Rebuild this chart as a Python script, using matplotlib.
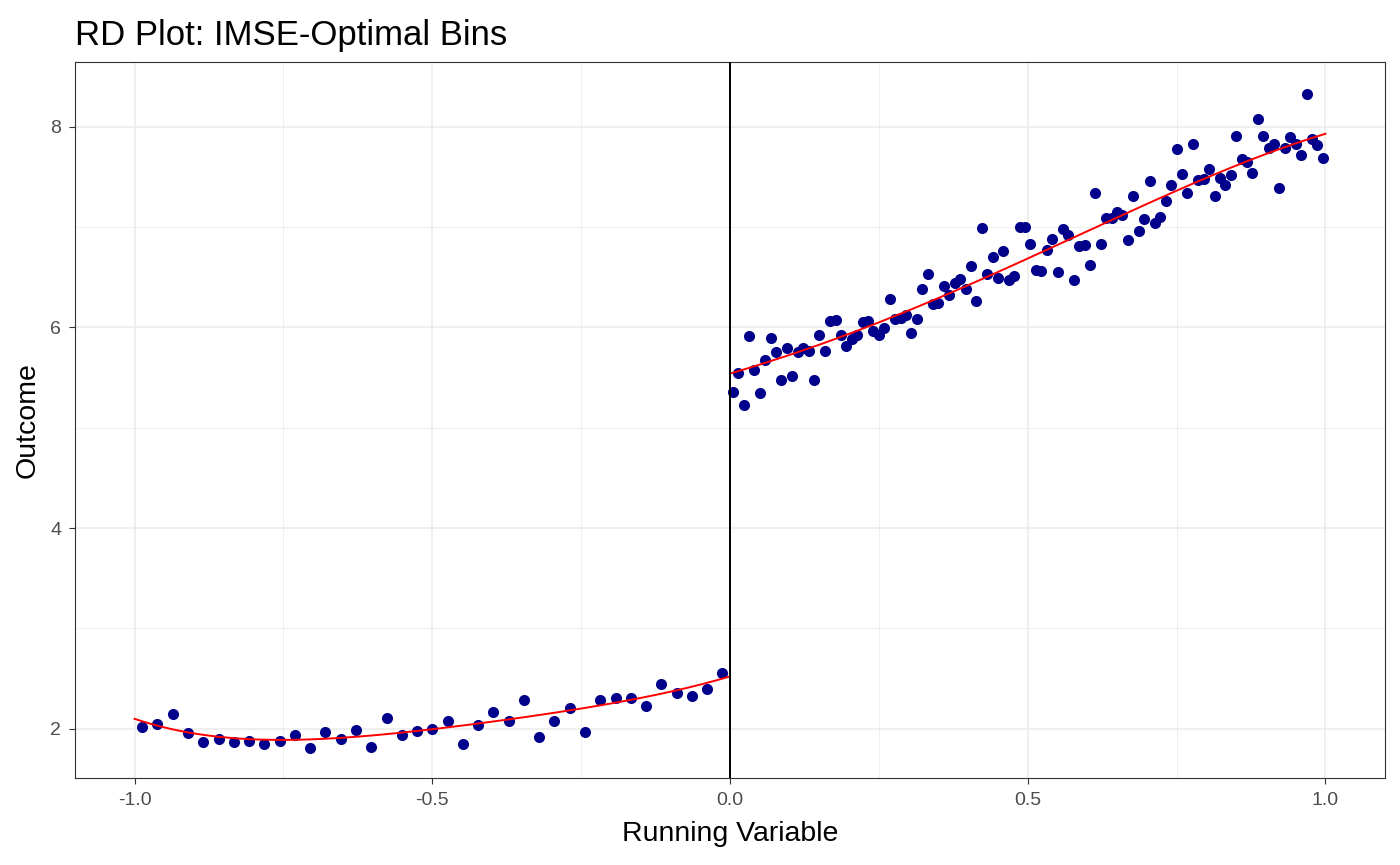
import numpy as np
import matplotlib.pyplot as plt

plt.rcParams['font.family'] = ['Liberation Sans', 'DejaVu Sans']

# bin means (39 bins left of the cutoff, 110 bins right)
left_y = [2.02, 2.05, 2.15, 1.96, 1.87, 1.90, 1.87, 1.88, 1.85, 1.88,
          1.94, 1.81, 1.97, 1.90, 1.99, 1.82, 2.11, 1.94, 1.98, 2.00,
          2.08, 1.85, 2.04, 2.17, 2.08, 2.29, 1.92, 2.08, 2.21, 1.97,
          2.29, 2.31, 2.31, 2.23, 2.45, 2.36, 2.33, 2.40, 2.56]

right_y = [5.36, 5.55, 5.23, 5.91, 5.58, 5.35, 5.68, 5.89, 5.76, 5.48,
           5.80, 5.52, 5.76, 5.80, 5.77, 5.48, 5.92, 5.77, 6.06, 6.07,
           5.92, 5.81, 5.88, 5.92, 6.05, 6.06, 5.96, 5.92, 5.99, 6.28,
           6.08, 6.09, 6.12, 5.94, 6.08, 6.38, 6.53, 6.23, 6.24, 6.41,
           6.32, 6.44, 6.48, 6.38, 6.61, 6.26, 6.99, 6.53, 6.70, 6.49,
           6.76, 6.47, 6.51, 7.00, 7.00, 6.83, 6.57, 6.56, 6.77, 6.88,
           6.55, 6.98, 6.92, 6.47, 6.81, 6.82, 6.62, 7.34, 6.83, 7.09,
           7.09, 7.15, 7.12, 6.87, 7.31, 6.96, 7.08, 7.46, 7.04, 7.10,
           7.26, 7.42, 7.78, 7.53, 7.34, 7.83, 7.47, 7.48, 7.58, 7.31,
           7.49, 7.42, 7.52, 7.91, 7.68, 7.65, 7.54, 8.08, 7.91, 7.79,
           7.83, 7.39, 7.79, 7.90, 7.83, 7.72, 8.33, 7.88, 7.82, 7.69]

# polynomial fit curve
curve_lx = [-1.0, -0.785, -0.515, -0.253, -0.13, 0.0]
curve_ly = [2.10, 1.89, 1.99, 2.19, 2.34, 2.52]
curve_rx = [0.0, 0.16, 0.325, 0.49, 0.655, 0.82, 1.0]
curve_ry = [5.54, 5.85, 6.23, 6.66, 7.11, 7.54, 7.93]

x_ticks = [-1.0, -0.5, 0.0, 0.5, 1.0]
tick_labels = ['-1.0', '-0.5', '0.0', '0.5', '1.0']
y_ticks = [2, 4, 6, 8]

# bin centres
n_l, n_r = len(left_y), len(right_y)
left_x = -1 + (np.arange(n_l) + 0.5) / n_l
right_x = (np.arange(n_r) + 0.5) / n_r

# smooth curves through the read values
fit_l = np.polyfit(curve_lx, curve_ly, 4)
fit_r = np.polyfit(curve_rx, curve_ry, 4)
gl = np.linspace(-1, 0, 200)
gr = np.linspace(0, 1, 200)

fig = plt.figure(figsize=(14, 8.65), dpi=100)
ax = fig.add_axes([0.0536, 0.1006, 0.9357, 0.8277])

ax.scatter(left_x, left_y, s=64, color='#00008B', zorder=3, linewidths=0)
ax.scatter(right_x, right_y, s=64, color='#00008B', zorder=3, linewidths=0)
ax.plot(gl, np.polyval(fit_l, gl), color='red', lw=1.4, zorder=4)
ax.plot(gr, np.polyval(fit_r, gr), color='red', lw=1.4, zorder=4)
ax.axvline(0, color='black', lw=1.4, zorder=5)

ax.set_xlim(-1.1, 1.1)
ax.set_ylim(1.51, 8.645)
ax.set_xticks(x_ticks)
ax.set_xticklabels(tick_labels)
ax.set_yticks(y_ticks)
ax.set_xticks([-0.75, -0.25, 0.25, 0.75], minor=True)
ax.set_yticks([3, 5, 7], minor=True)

ax.grid(which='major', color='#EBEBEB', lw=1.1, zorder=0)
ax.grid(which='minor', color='#EBEBEB', lw=0.55, zorder=0)
ax.set_axisbelow(True)
ax.tick_params(which='major', direction='out', length=4, width=0.8,
               color='#333333', labelcolor='#4D4D4D', labelsize=14, pad=6)
ax.tick_params(which='minor', length=0)
for s in ax.spines.values():
    s.set_color('#333333')
    s.set_linewidth(0.8)

ax.set_xlabel('Running Variable', fontsize=20.5, color='black', labelpad=9)
ax.set_ylabel('Outcome', fontsize=20.5, color='black', labelpad=7)
ax.set_title('RD Plot: IMSE-Optimal Bins', loc='left', fontsize=25, pad=12)

fig.savefig('out.png', dpi=100)
